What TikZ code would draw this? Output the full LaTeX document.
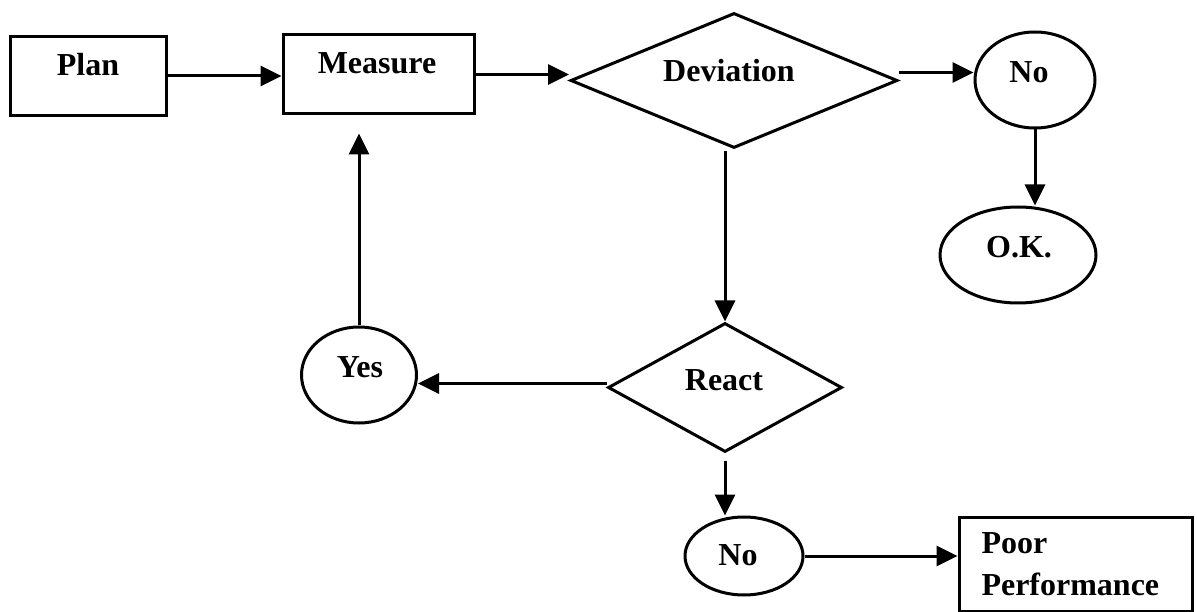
\documentclass[tikz,border=0pt]{standalone}
\usepackage{fontspec}
\setmainfont{Liberation Serif}
\usetikzlibrary{shapes.geometric,arrows.meta}
\begin{document}
\begin{tikzpicture}[x=1pt,y=-1pt,
  line width=3pt,
  box/.style 2 args={draw, rectangle, inner sep=0pt, minimum width=#1, minimum height=#2},
  decision/.style 2 args={draw, diamond, inner sep=0pt, minimum width=#1, minimum height=#2},
  oval/.style 2 args={draw, ellipse, inner sep=0pt, minimum width=#1, minimum height=#2},
  lbl/.style={font=\fontsize{32}{38}\selectfont\bfseries, inner sep=0pt},
  flow/.style={-{Triangle[length=21pt,width=20pt]}}]

% canvas
\fill[white] (0,0) rectangle (1197,612);
\useasboundingbox (0,0) rectangle (1197,612);

% shapes
\node[box={156pt}{79pt}] (plan) at (88,76) {};
\node[box={191pt}{79pt}] (measure) at (378.5,74.5) {};
\node[decision={327pt}{135pt}] (dev) at (734,80.5) {};
\node[oval={120pt}{96pt}] (noA) at (1035,80) {};
\node[oval={156pt}{96pt}] (ok) at (1018,255) {};
\node[decision={234pt}{129pt}] (react) at (725,387.5) {};
\node[oval={115pt}{96pt}] (yes) at (359,375) {};
\node[oval={118pt}{78pt}] (noB) at (744,556) {};
\node[box={233pt}{94pt}] (poor) at (1075.5,564) {};

% labels
\node[lbl] (plan-t) at (88,65) {Plan};
\node[lbl] (measure-t) at (377,63) {Measure};
\node[lbl] (dev-t) at (729,71) {Deviation};
\node[lbl] (noA-t) at (1029,72) {No};
\node[lbl] (ok-t) at (1019,247) {O.K.};
\node[lbl] (react-t) at (724,380) {React};
\node[lbl] (yes-t) at (360,367) {Yes};
\node[lbl] (noB-t) at (738,555) {No};
\node[lbl, anchor=base west] (poor-t1) at (980,553) {Poor};
\node[lbl, anchor=base west] (poor-t2) at (980,595) {Performance};

% connectors
\draw[flow] (plan.east) -- (plan.east -| measure.west);
\draw[flow] (measure.east) -- (measure.east -| dev.west);
\coordinate (devR) at ([yshift=8pt]dev.east);
\draw[flow] (devR) -- (devR -| noA.west);
\draw[flow] (noA.south) -- (noA.south |- ok.north);
\coordinate (devB) at ([yshift=-2pt]dev.south);
\draw[flow] (devB -| react.north) -- (react.north);
\coordinate (reactL) at ([yshift=4pt]react.west);
\draw[flow] (reactL) -- (reactL -| yes.east);
\coordinate (mbelow) at ([yshift=-18pt]measure.south);
\draw[flow] (yes.north) -- (yes.north |- mbelow);
\coordinate (reactB) at ([yshift=-7pt]react.south);
\draw[flow] (reactB) -- (reactB |- noB.north);
\draw[flow] (noB.east) -- (noB.east -| poor.west);
\end{tikzpicture}
\end{document}
